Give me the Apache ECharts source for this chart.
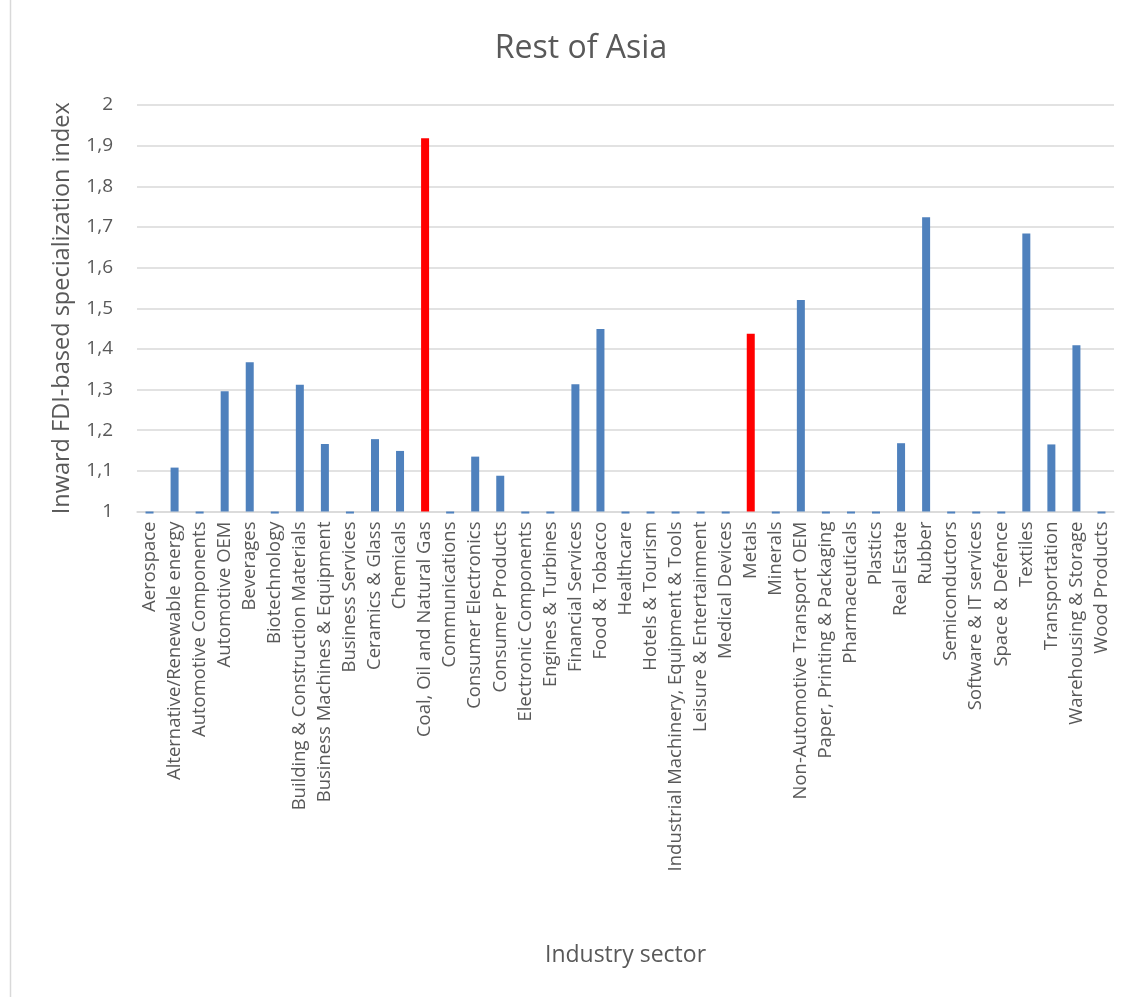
<!DOCTYPE html>
<html>
<head>
<meta charset="utf-8">
<script src="https://cdn.jsdelivr.net/npm/echarts@6/dist/echarts.min.js"></script>
<style>
  html, body { margin: 0; padding: 0; background: #fff; }
  #chart { width: 1138px; height: 997px; }
</style>
</head>
<body>
<div id="chart"></div>
<script>
// Industry sectors along the category axis
const sectors = [
  'Aerospace', 'Alternative/Renewable energy', 'Automotive Components', 'Automotive OEM',
  'Beverages', 'Biotechnology', 'Building & Construction Materials', 'Business Machines & Equipment',
  'Business Services', 'Ceramics & Glass', 'Chemicals', 'Coal, Oil and Natural Gas',
  'Communications', 'Consumer Electronics', 'Consumer Products', 'Electronic Components',
  'Engines & Turbines', 'Financial Services', 'Food & Tobacco', 'Healthcare',
  'Hotels & Tourism', 'Industrial Machinery, Equipment & Tools', 'Leisure & Entertainment', 'Medical Devices',
  'Metals', 'Minerals', 'Non-Automotive Transport OEM', 'Paper, Printing & Packaging',
  'Pharmaceuticals', 'Plastics', 'Real Estate', 'Rubber',
  'Semiconductors', 'Software & IT services', 'Space & Defence', 'Textiles',
  'Transportation', 'Warehousing & Storage', 'Wood Products'
];

// Inward FDI-based specialization index per sector (sectors below 1 sit just under the baseline)
const specializationIndex = [
  0.995, 1.108, 0.995, 1.296,
  1.367, 0.995, 1.312, 1.166,
  0.995, 1.178, 1.149, 1.918,
  0.995, 1.135, 1.088, 0.995,
  0.995, 1.313, 1.449, 0.995,
  0.995, 0.995, 0.995, 0.995,
  1.437, 0.995, 1.520, 0.995,
  0.995, 0.995, 1.168, 1.724,
  0.995, 0.995, 0.995, 1.684,
  1.165, 1.409, 0.995
];

// Sectors drawn in the accent colour
const highlightedSectors = ['Coal, Oil and Natural Gas', 'Metals'];

// Value axis ticks
const yTicks = { min: 1, max: 2, interval: 0.1 };

const FONT = '"Open Sans", "Noto Sans", sans-serif';
const TEXT = '#595959';
const GRID = '#D9D9D9';
const BLUE = '#4F81BD';
const RED = '#FF0000';

const chart = echarts.init(document.getElementById('chart'), null, { renderer: 'canvas' });

chart.setOption({
  backgroundColor: '#ffffff',
  animation: false,
  title: {
    text: 'Rest of Asia',
    left: 576,
    top: 28,
    textAlign: 'center',
    textStyle: { fontFamily: FONT, fontSize: 32, fontWeight: 'normal', color: TEXT }
  },
  grid: { left: 137, right: 24, top: 105, height: 406.5, containLabel: false },
  xAxis: {
    type: 'category',
    data: sectors,
    name: 'Industry sector',
    nameLocation: 'middle',
    nameGap: 432,
    nameTextStyle: { fontFamily: FONT, fontSize: 23, color: TEXT },
    axisLine: { show: true, lineStyle: { color: GRID, width: 1.5 } },
    axisTick: { show: false },
    axisLabel: {
      interval: 0,
      rotate: 90,
      margin: 10,
      fontFamily: FONT,
      fontSize: 18.5,
      color: TEXT
    }
  },
  yAxis: {
    type: 'value',
    min: yTicks.min,
    max: yTicks.max,
    interval: yTicks.interval,
    startValue: 1,
    name: 'Inward FDI-based specialization index',
    nameLocation: 'middle',
    nameGap: 63,
    nameRotate: 90,
    nameTextStyle: { fontFamily: FONT, fontSize: 23.5, color: TEXT },
    axisLine: { show: false },
    axisTick: { show: false },
    splitLine: { lineStyle: { color: GRID, width: 1.5 } },
    axisLabel: {
      margin: 24,
      fontFamily: FONT,
      fontSize: 19,
      color: TEXT,
      formatter: v => String(Math.round(v * 10) / 10).replace('.', ',')
    }
  },
  series: [{
    type: 'bar',
    barWidth: 8,
    clip: false,
    data: specializationIndex.map((v, i) => ({
      value: v,
      itemStyle: { color: highlightedSectors.includes(sectors[i]) ? RED : BLUE }
    }))
  }],
  graphic: [{
    type: 'line',
    shape: { x1: 10.5, y1: 0, x2: 10.5, y2: 997 },
    style: { stroke: GRID, lineWidth: 1.5 }
  }]
});
</script>
</body>
</html>
